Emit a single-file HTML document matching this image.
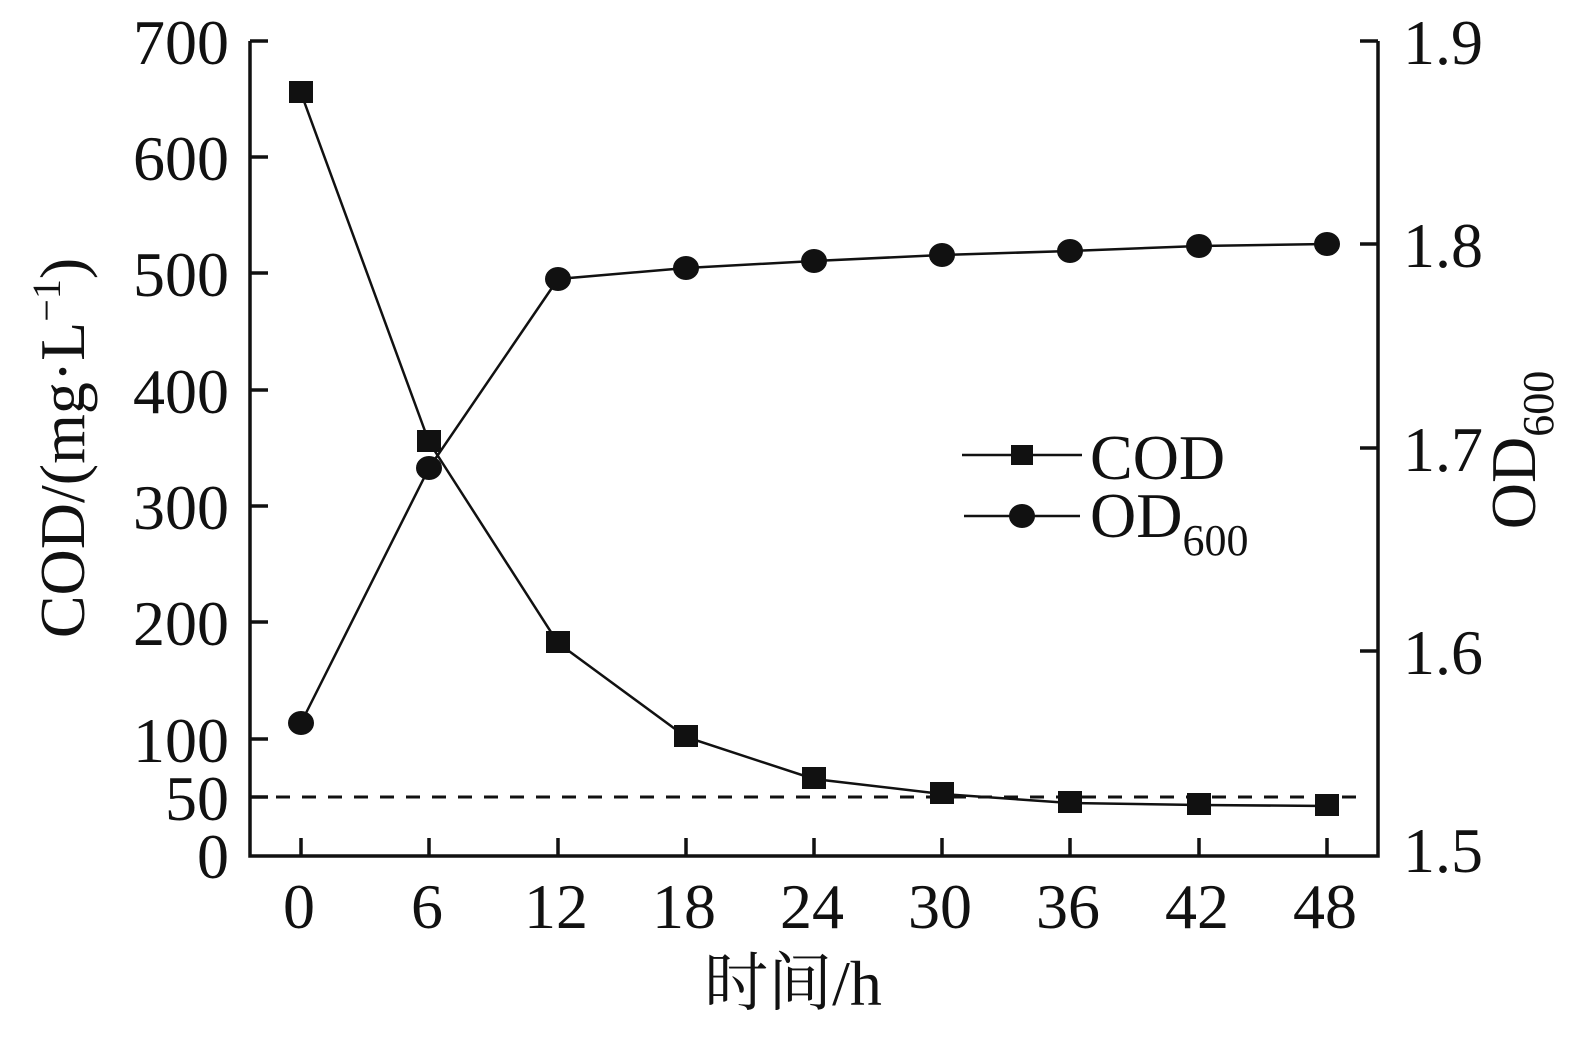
<!DOCTYPE html>
<html><head><meta charset="utf-8"><style>
html,body{margin:0;padding:0;background:#fff;}
svg text{font-family:"Liberation Serif","Noto Serif CJK SC",serif;fill:#111;}
</style></head><body>
<svg width="1585" height="1033" viewBox="0 0 1585 1033" xmlns="http://www.w3.org/2000/svg">
<g stroke="#111" stroke-width="3.5" fill="none">
<polyline points="250,41 250,856 1378,856 1378,41"/>
<line x1="250" y1="41" x2="268" y2="41"/>
<line x1="250" y1="157" x2="268" y2="157"/>
<line x1="250" y1="273" x2="268" y2="273"/>
<line x1="250" y1="390" x2="268" y2="390"/>
<line x1="250" y1="506" x2="268" y2="506"/>
<line x1="250" y1="622" x2="268" y2="622"/>
<line x1="250" y1="739" x2="268" y2="739"/>
<line x1="250" y1="797" x2="268" y2="797"/>
<line x1="1360" y1="41" x2="1378" y2="41"/>
<line x1="1360" y1="244" x2="1378" y2="244"/>
<line x1="1360" y1="448" x2="1378" y2="448"/>
<line x1="1360" y1="651" x2="1378" y2="651"/>
<line x1="301" y1="838" x2="301" y2="856"/>
<line x1="429" y1="838" x2="429" y2="856"/>
<line x1="558" y1="838" x2="558" y2="856"/>
<line x1="686" y1="838" x2="686" y2="856"/>
<line x1="814" y1="838" x2="814" y2="856"/>
<line x1="942" y1="838" x2="942" y2="856"/>
<line x1="1070" y1="838" x2="1070" y2="856"/>
<line x1="1199" y1="838" x2="1199" y2="856"/>
<line x1="1327" y1="838" x2="1327" y2="856"/>
</g>
<line x1="250" y1="797" x2="1368" y2="797" stroke="#111" stroke-width="3" stroke-dasharray="14,12"/>
<g stroke="#111" stroke-width="2.5" fill="none">
<polyline points="301,93 429,442 558,643 686,737 814,779 942,794 1070,803 1199,805 1327,806"/>
<polyline points="301,723 429,468 558,279 686,268 814,261 942,255 1070,251 1199,246 1327,244"/>
<line x1="962" y1="455" x2="1082" y2="455"/>
<line x1="964" y1="516" x2="1080" y2="516"/>
</g>
<g fill="#111">
<rect x="289" y="81" width="24" height="22"/>
<rect x="417" y="430" width="24" height="22"/>
<rect x="546" y="631" width="24" height="22"/>
<rect x="674" y="725" width="24" height="22"/>
<rect x="802" y="767" width="24" height="22"/>
<rect x="930" y="782" width="24" height="22"/>
<rect x="1058" y="791" width="24" height="22"/>
<rect x="1187" y="793" width="24" height="22"/>
<rect x="1315" y="794" width="24" height="22"/>
<ellipse cx="301" cy="723" rx="13" ry="12"/>
<ellipse cx="429" cy="468" rx="13" ry="12"/>
<ellipse cx="558" cy="279" rx="13" ry="12"/>
<ellipse cx="686" cy="268" rx="13" ry="12"/>
<ellipse cx="814" cy="261" rx="13" ry="12"/>
<ellipse cx="942" cy="255" rx="13" ry="12"/>
<ellipse cx="1070" cy="251" rx="13" ry="12"/>
<ellipse cx="1199" cy="246" rx="13" ry="12"/>
<ellipse cx="1327" cy="244" rx="13" ry="12"/>
<rect x="1011" y="445" width="22" height="20"/>
<ellipse cx="1022" cy="516" rx="13" ry="12"/>
</g>
<g font-size="64" text-anchor="end">
<text x="229" y="64">700</text>
<text x="229" y="180">600</text>
<text x="229" y="296">500</text>
<text x="229" y="413">400</text>
<text x="229" y="529">300</text>
<text x="229" y="645">200</text>
<text x="229" y="762">100</text>
<text x="229" y="820">50</text>
<text x="229" y="878">0</text>
</g>
<g font-size="64" text-anchor="start">
<text x="1403" y="64">1.9</text>
<text x="1403" y="267">1.8</text>
<text x="1403" y="471">1.7</text>
<text x="1403" y="674">1.6</text>
<text x="1403" y="872">1.5</text>
</g>
<g font-size="64" text-anchor="middle">
<text x="299" y="928">0</text>
<text x="427" y="928">6</text>
<text x="556" y="928">12</text>
<text x="684" y="928">18</text>
<text x="812" y="928">24</text>
<text x="940" y="928">30</text>
<text x="1068" y="928">36</text>
<text x="1197" y="928">42</text>
<text x="1325" y="928">48</text>
</g>
<text x="793" y="1005" font-size="64" text-anchor="middle">时间/h</text>
<text x="1090" y="479" font-size="64">COD</text>
<text x="1090" y="537" font-size="64">OD<tspan font-size="44" dy="18">600</tspan></text>
<text transform="translate(84,448) rotate(-90)" font-size="64" text-anchor="middle">COD/(mg·L<tspan font-size="40" dy="-24">−1</tspan><tspan dy="24">)</tspan></text>
<text transform="translate(1535,450) rotate(-90)" font-size="64" text-anchor="middle">OD<tspan font-size="44" dy="18">600</tspan></text>
</svg>
</body></html>
